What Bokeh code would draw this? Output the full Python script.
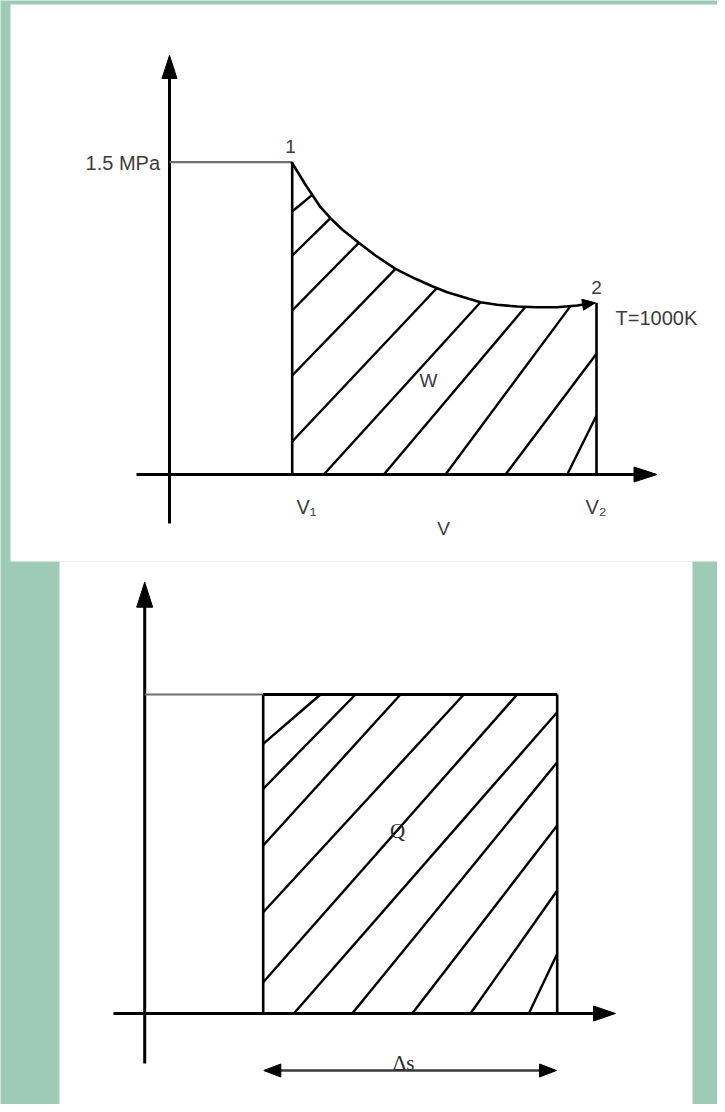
import math
from bokeh.plotting import figure
from bokeh.models import Range1d
from bokeh.core.properties import value
from bokeh.embed import file_html
from bokeh.resources import INLINE

# ---------------- data (reference pixel frame, y grows downward) ----------------
# top panel: p-V diagram, isothermal expansion 1 -> 2
v1_x, v2_x = 291.7, 596.0
pv_axis_y = 474.0          # V axis
pv_p_axis_x = 169.0        # p axis
p1_y = 161.7               # 1.5 MPa level
p2_y = 302.3
curve_v = [291.0, 298.3, 305.0, 311.7, 320.0, 330.0, 341.7, 358.3, 375.0, 395.0, 415.0,
           431.7, 446.7, 463.3, 480.0, 496.7, 516.7, 536.7, 556.7, 576.7, 595.0]
curve_p = [161.7, 173.3, 184.3, 194.3, 206.7, 217.7, 229.0, 242.3, 255.0, 268.3, 278.3,
           285.7, 291.7, 296.7, 301.7, 304.3, 306.0, 306.7, 306.7, 305.0, 302.3]
# hatch lines of work area W
w_x0 = [291.7, 291.7, 291.7, 291.7, 291.7, 323.3, 383.3, 445.0, 505.0, 566.7]
w_y0 = [211.0, 255.0, 310.0, 375.0, 441.0, 474.0, 474.0, 474.0, 474.0, 474.0]
w_x1 = [311.7, 330.0, 358.3, 395.0, 436.7, 480.0, 525.0, 570.0, 596.0, 596.0]
w_y1 = [194.3, 217.7, 242.3, 268.3, 287.3, 301.7, 306.3, 305.6, 353.3, 415.0]

# bottom panel: T-s diagram, heat Q
ts_axis_y = 1013.0
ts_t_axis_x = 144.2
s1_x, s2_x = 262.7, 556.7
t_y = 694.0
q_x0 = [262.7, 262.7, 262.7, 262.7, 262.7, 293.3, 351.7, 411.7, 470.0, 528.3]
q_y0 = [743.3, 788.3, 845.0, 911.7, 981.7, 1013.0, 1013.0, 1013.0, 1013.0, 1013.0]
q_x1 = [320.0, 355.0, 400.0, 463.3, 516.7, 556.7, 556.7, 556.7, 556.7, 556.7]
q_y1 = [694.0, 694.0, 694.0, 694.0, 694.0, 711.7, 761.7, 825.0, 890.0, 953.3]

# labels
pv_labels = ["1.5 MPa", "1", "2", "T=1000K", "W", "V\u2081", "V\u2082", "V"]
ts_labels = ["Q", "\u0394s"]

# ---------------- figure ----------------
BG = "#9dcbb5"
p = figure(width=717, height=1104, x_range=Range1d(0, 717), y_range=Range1d(1104, 0),
           output_backend="svg", toolbar_location=None, min_border=0)
p.axis.visible = False
p.grid.visible = False
p.outline_line_color = None
p.background_fill_color = BG
p.border_fill_color = BG

# white panels
p.quad(left=[10, 59], right=[725, 692], top=[4, 561], bottom=[561, 1112],
       fill_color="white", line_color=None)


def head(tip, tail, length, width):
    dx, dy = tip[0] - tail[0], tip[1] - tail[1]
    n = math.hypot(dx, dy)
    ux, uy = dx / n, dy / n
    bx, by = tip[0] - ux * length, tip[1] - uy * length
    px, py = -uy, ux
    return ([tip[0], bx + px * width / 2, bx - px * width / 2],
            [tip[1], by + py * width / 2, by - py * width / 2])


AX_W = 3
HEAD_L, HEAD_W = 23, 15

# ---- top panel ----
p.line([pv_p_axis_x, pv_p_axis_x], [523, 70], line_color="black", line_width=AX_W)
p.line([136, 640], [pv_axis_y, pv_axis_y], line_color="black", line_width=AX_W)
hx, hy = head((pv_p_axis_x, 55), (pv_p_axis_x, 523), HEAD_L, HEAD_W)
p.patch(hx, hy, fill_color="black", line_color="black")
hx, hy = head((656.5, pv_axis_y), (136, pv_axis_y), HEAD_L, HEAD_W)
p.patch(hx, hy, fill_color="black", line_color="black")
p.line([pv_p_axis_x, v1_x], [p1_y, p1_y], line_color="#6e6e6e", line_width=2.2)
p.line([v1_x, v1_x], [p1_y, pv_axis_y], line_color="black", line_width=2.6)
p.line([v2_x, v2_x], [p2_y, pv_axis_y], line_color="black", line_width=2.6)
p.segment(x0=w_x0, y0=w_y0, x1=w_x1, y1=w_y1, line_color="black", line_width=2.4)
p.line(curve_v[:-1] + [curve_v[-1] - 6], curve_p[:-1] + [curve_p[-1] + 0.8],
       line_color="black", line_width=2.6, line_join="round")
hx, hy = head((curve_v[-1], curve_p[-1]), (curve_v[-2], curve_p[-2]), 13, 11)
p.patch(hx, hy, fill_color="black", line_color="black")

SANS = value("Liberation Sans")
SERIF = value("Liberation Serif")
TXT = "#3c3c3c"
p.text(x=[159.5], y=[162], text=[pv_labels[0]], text_font=SANS, text_font_size="20px",
       text_align="right", text_baseline="middle", text_color=TXT)
p.text(x=[290, 596], y=[146, 287], text=pv_labels[1:3], text_font=SANS, text_font_size="19px",
       text_align="center", text_baseline="middle", text_color=TXT)
p.text(x=[615], y=[317], text=[pv_labels[3]], text_font=SANS, text_font_size="20px",
       text_align="left", text_baseline="middle", text_color=TXT)
p.text(x=[428], y=[380], text=[pv_labels[4]], text_font=SANS, text_font_size="19px",
       text_align="center", text_baseline="middle", text_color=TXT)
p.text(x=[296, 585], y=[506, 506], text=pv_labels[5:7], text_font=SANS, text_font_size="20px",
       text_align="left", text_baseline="middle", text_color=TXT)
p.text(x=[443], y=[528], text=[pv_labels[7]], text_font=SANS, text_font_size="19px",
       text_align="center", text_baseline="middle", text_color=TXT)

# ---- bottom panel ----
p.line([ts_t_axis_x, ts_t_axis_x], [1063, 600], line_color="black", line_width=AX_W)
p.line([113, 600], [ts_axis_y, ts_axis_y], line_color="black", line_width=AX_W)
hx, hy = head((ts_t_axis_x, 581.7), (ts_t_axis_x, 1063), 25, 16)
p.patch(hx, hy, fill_color="black", line_color="black")
hx, hy = head((615, ts_axis_y), (113, ts_axis_y), 22, 15)
p.patch(hx, hy, fill_color="black", line_color="black")
p.line([ts_t_axis_x, s1_x], [t_y, t_y], line_color="#6e6e6e", line_width=1.8)
p.line([s1_x, s2_x], [t_y, t_y], line_color="black", line_width=2.8)
p.line([s1_x, s1_x], [t_y, ts_axis_y], line_color="black", line_width=2.6)
p.line([s2_x, s2_x], [t_y, ts_axis_y], line_color="black", line_width=2.6)
p.segment(x0=q_x0, y0=q_y0, x1=q_x1, y1=q_y1, line_color="black", line_width=2.4)

# delta-s double arrow
p.line([278, 541], [1070, 1070], line_color="#3a3a3a", line_width=2.6)
hx, hy = head((263.3, 1070), (556, 1070), 17, 13)
p.patch(hx, hy, fill_color="black", line_color="black")
hx, hy = head((556, 1070), (263.3, 1070), 17, 13)
p.patch(hx, hy, fill_color="black", line_color="black")

p.text(x=[397], y=[830], text=[ts_labels[0]], text_font=SERIF, text_font_size="21px",
       text_align="center", text_baseline="middle", text_color="#2a2a2a")
p.text(x=[403], y=[1074], text=[ts_labels[1]], text_font=SERIF, text_font_size="21px",
       text_align="center", text_baseline="bottom", text_color="#2a2a2a")

open("out.html", "w").write(file_html(p, INLINE))
